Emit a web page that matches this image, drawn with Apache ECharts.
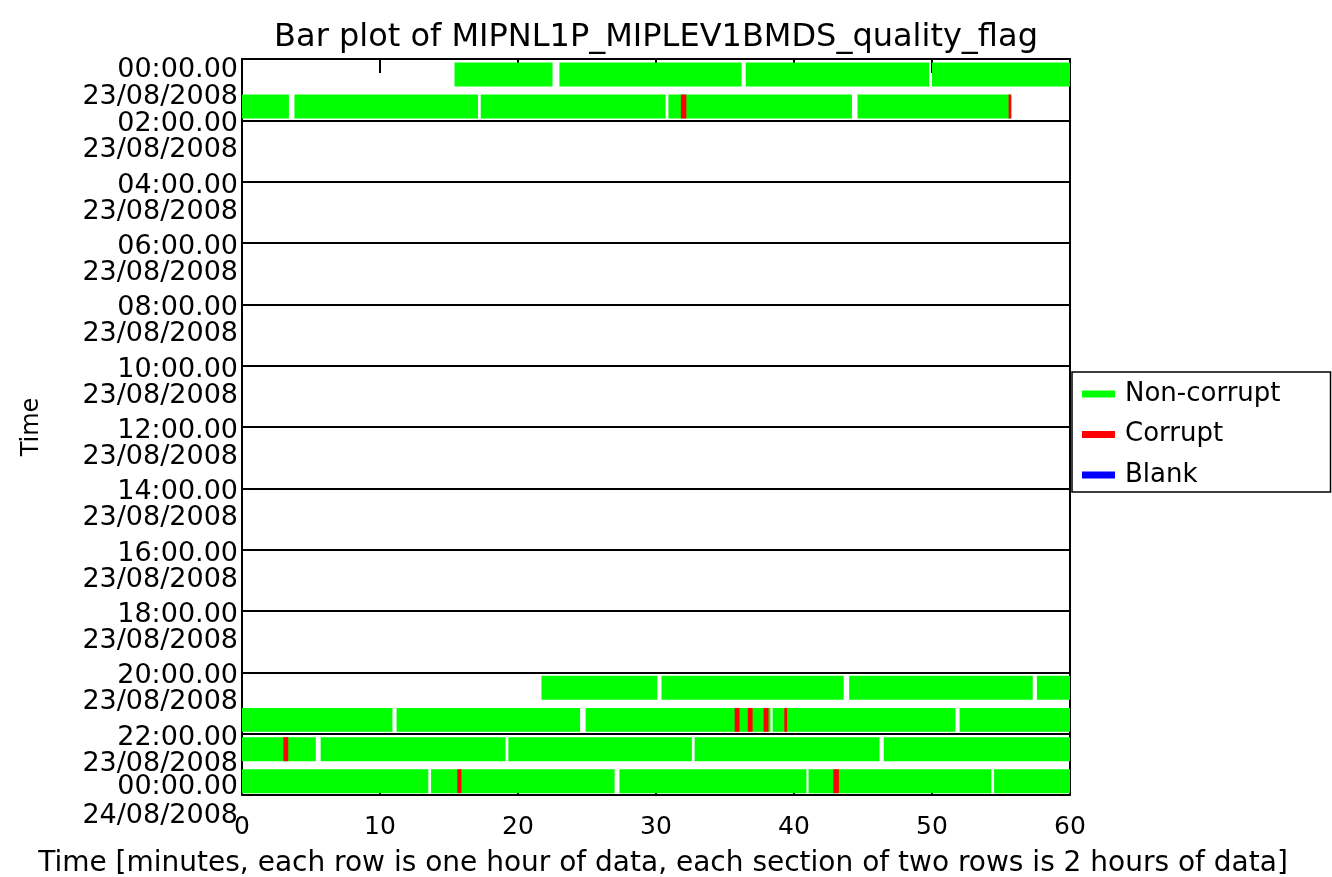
<!DOCTYPE html>
<html>
<head>
<meta charset="utf-8">
<script src="https://cdn.jsdelivr.net/npm/echarts@6/dist/echarts.min.js"></script>
<style>html,body{margin:0;padding:0;background:#fff}#c{width:1332px;height:877px}</style>
</head>
<body>
<div id="c"></div>
<script>
// ---- data ----
const timeLabels = ['00:00.00','02:00.00','04:00.00','06:00.00','08:00.00','10:00.00','12:00.00','14:00.00','16:00.00','18:00.00','20:00.00','22:00.00','00:00.00'];
const dateLabels = ['23/08/2008','23/08/2008','23/08/2008','23/08/2008','23/08/2008','23/08/2008','23/08/2008','23/08/2008','23/08/2008','23/08/2008','23/08/2008','23/08/2008','24/08/2008'];
const xTicks = [0, 10, 20, 30, 40, 50, 60];
// [row (hour index), start minute, end minute]
const nonCorrupt = [
  [0, 15.4, 22.5], [0, 23.0, 36.2], [0, 36.5, 49.8], [0, 50.0, 60.0],
  [1, 0.0, 3.4], [1, 3.8, 17.1], [1, 17.3, 30.7], [1, 30.9, 44.2], [1, 44.6, 55.7],
  [20, 21.7, 30.1], [20, 30.4, 43.6], [20, 44.0, 57.3], [20, 57.6, 60.0],
  [21, 0.0, 10.9], [21, 11.2, 24.5], [21, 24.9, 38.3], [21, 38.45, 51.7], [21, 52.0, 60.0],
  [22, 0.0, 5.35], [22, 5.7, 19.1], [22, 19.3, 32.6], [22, 32.8, 46.2], [22, 46.5, 60.0],
  [23, 0.0, 13.5], [23, 13.7, 27.0], [23, 27.35, 40.9], [23, 41.05, 54.3], [23, 54.5, 60.0]
];
const corrupt = [
  [1, 31.8, 32.2], [1, 55.55, 55.75],
  [21, 35.7, 36.05], [21, 36.65, 37.0], [21, 37.8, 38.15], [21, 39.3, 39.5],
  [22, 3.0, 3.35],
  [23, 15.6, 15.9], [23, 42.85, 43.25]
];
const blank = [];

function renderSeg(params, api) {
  const row = api.value(0), s = api.value(1), e = api.value(2);
  const off = row % 2 === 0 ? [0.114, 0.898] : [0.16, 0.94];
  const p1 = api.coord([s, row + off[0]]);
  const p2 = api.coord([e, row + off[1]]);
  return {
    type: 'rect',
    shape: { x: p1[0], y: p1[1], width: p2[0] - p1[0], height: p2[1] - p1[1] },
    style: { fill: api.visual('color') }
  };
}

const LAST = timeLabels.length - 1;
function timeLabel(value, i) {
  if (i === 0) return '{b22| }\n{t|' + value + '}';
  if (i === LAST) return '{t|' + value + '}\n{b16| }';
  return '{b8| }\n{t|' + value + '}';
}
function dateLabel(value, i) {
  if (i === 0) return '{b76| }\n{t|' + value + '}';
  if (i === LAST) return '{b42| }\n{t|' + value + '}';
  return '{b60| }\n{t|' + value + '}';
}

const FONT = 'DejaVu Sans';
const txt = { fontFamily: FONT, fontSize: 27, lineHeight: 27, color: '#000' };
const gap = (h) => ({ fontSize: 1, lineHeight: h });
const rich = { t: txt, b8: gap(8), b16: gap(16), b22: gap(22), b42: gap(42), b60: gap(60), b76: gap(76) };

const chart = echarts.init(document.getElementById('c'), null, { renderer: 'canvas' });
chart.setOption({
  animation: false,
  backgroundColor: '#fff',
  textStyle: { fontFamily: FONT, color: '#000' },
  title: {
    text: 'Bar plot of MIPNL1P_MIPLEV1BMDS_quality_flag',
    left: 651, top: 17, textAlign: 'center',
    textStyle: { fontFamily: FONT, fontSize: 32, fontWeight: 'normal', color: '#000' }
  },
  legend: {
    orient: 'vertical',
    left: 1072, top: 372,
    padding: [9, 50, 4, 10],
    borderColor: '#000', borderWidth: 1.5,
    itemWidth: 33, itemHeight: 7, itemGap: 14.5,
    icon: 'rect',
    textStyle: { fontFamily: FONT, fontSize: 26, lineHeight: 26, color: '#000', padding: [0, 0, 0, 5] },
    data: ['Non-corrupt', 'Corrupt', 'Blank']
  },
  grid: { left: 242, right: 262, top: 59, bottom: 82, containLabel: false, outerBoundsMode: 'none' },
  xAxis: [{
    type: 'value', min: xTicks[0], max: xTicks[xTicks.length - 1], interval: 10,
    position: 'bottom',
    name: 'Time [minutes, each row is one hour of data, each section of two rows is 2 hours of data]',
    nameLocation: 'middle', nameGap: 55,
    nameTextStyle: { fontFamily: FONT, fontSize: 28, color: '#000', padding: [0, 0, 0, 14] },
    axisLine: { onZero: false, lineStyle: { color: '#000', width: 2 } },
    axisTick: { show: true, inside: true, length: 14, lineStyle: { color: '#000', width: 2 } },
    axisLabel: { fontFamily: FONT, fontSize: 25, color: '#000', margin: 20 },
    splitLine: { show: false }
  }, {
    type: 'value', min: xTicks[0], max: xTicks[xTicks.length - 1], interval: 10,
    position: 'top',
    axisLine: { show: true, onZero: false, lineStyle: { color: '#000', width: 2 } },
    axisTick: { show: true, inside: true, length: 14, lineStyle: { color: '#000', width: 2 } },
    axisLabel: { show: false },
    splitLine: { show: false }
  }],
  yAxis: [{
    type: 'value', min: 0, max: 24, interval: 2, inverse: true, position: 'right',
    axisLine: { show: true, onZero: false, lineStyle: { color: '#000', width: 2 } },
    axisTick: { show: false }, axisLabel: { show: false }, splitLine: { show: false }
  }, {
    type: 'category', data: timeLabels, boundaryGap: false, inverse: true, position: 'left',
    name: 'Time', nameLocation: 'middle', nameGap: 198, nameRotate: 90,
    nameTextStyle: { fontFamily: FONT, fontSize: 24, color: '#000' },
    axisLine: { show: true, onZero: false, lineStyle: { color: '#000', width: 2 } },
    axisTick: { show: false },
    splitLine: { show: true, interval: 0, lineStyle: { color: '#000', width: 2 } },
    axisLabel: {
      interval: 0, margin: 4, color: '#000', fontFamily: FONT, verticalAlign: 'middle',
      formatter: timeLabel, rich: rich
    }
  }, {
    type: 'category', data: dateLabels, boundaryGap: false, inverse: true, position: 'left', offset: 0,
    axisLine: { show: false, onZero: false },
    axisTick: { show: false },
    splitLine: { show: false },
    axisLabel: {
      interval: 0, margin: 4, color: '#000', fontFamily: FONT, verticalAlign: 'middle',
      formatter: dateLabel, rich: rich
    }
  }],
  series: [
    { name: 'Non-corrupt', type: 'custom', renderItem: renderSeg, data: nonCorrupt,
      encode: { x: [1, 2], y: 0 }, itemStyle: { color: '#00ff00' }, z: 3 },
    { name: 'Corrupt', type: 'custom', renderItem: renderSeg, data: corrupt,
      encode: { x: [1, 2], y: 0 }, itemStyle: { color: '#ff0000' }, z: 4 },
    { name: 'Blank', type: 'custom', renderItem: renderSeg, data: blank,
      encode: { x: [1, 2], y: 0 }, itemStyle: { color: '#0000ff' }, z: 4 }
  ]
});
</script>
</body>
</html>
